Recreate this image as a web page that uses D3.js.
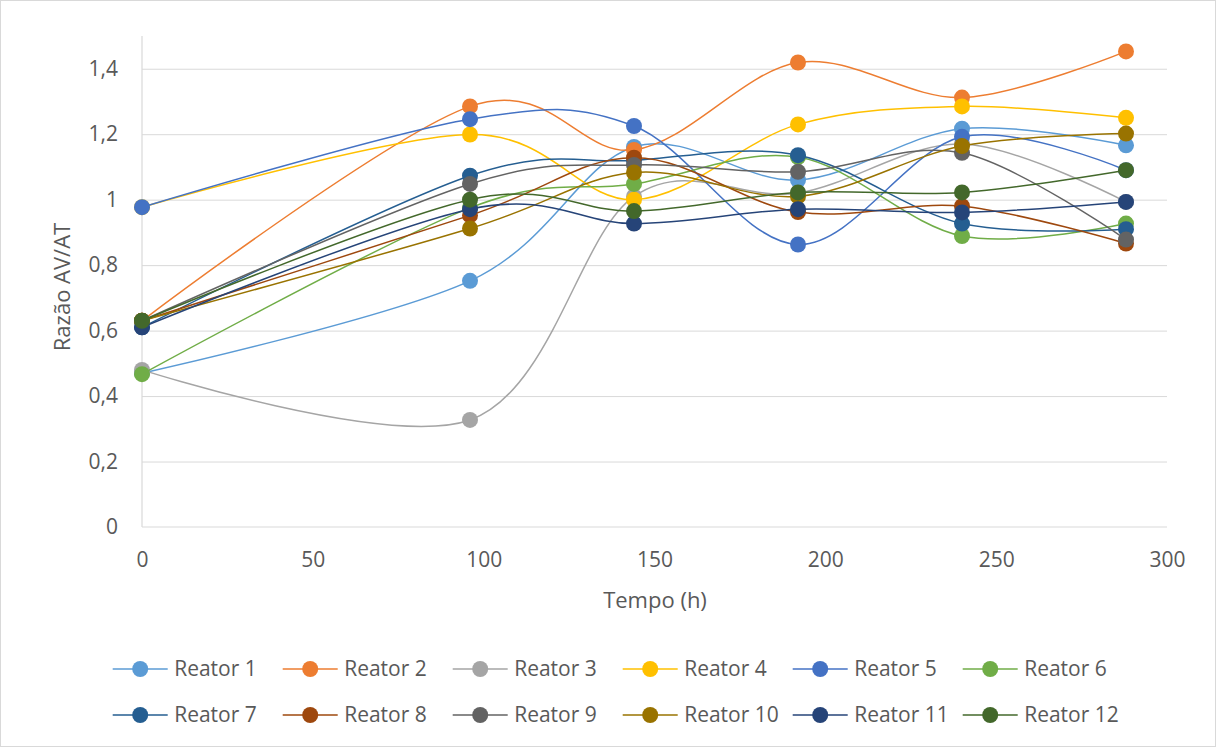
<!DOCTYPE html>
<html>
<head>
<meta charset="utf-8">
<script src="https://cdn.jsdelivr.net/npm/d3@7"></script>
<style>
  html, body { margin: 0; padding: 0; background: #fff; }
  svg { display: block; font-family: "Open Sans", "Noto Sans", sans-serif; }
</style>
</head>
<body>
<svg id="chart" width="1216" height="747"></svg>
<script>
// ---- Data ----
const tempos = [0, 96, 144, 192, 240, 288];
const seriesNames = ["Reator 1","Reator 2","Reator 3","Reator 4","Reator 5","Reator 6",
                     "Reator 7","Reator 8","Reator 9","Reator 10","Reator 11","Reator 12"];
const reator1  = [0.470, 0.752, 1.161, 1.060, 1.217, 1.166];
const reator2  = [0.630, 1.285, 1.152, 1.419, 1.312, 1.453];
const reator3  = [0.480, 0.327, 1.010, 1.020, 1.170, 0.993];
const reator4  = [0.977, 1.199, 1.000, 1.230, 1.285, 1.250];
const reator5  = [0.977, 1.246, 1.225, 0.863, 1.192, 1.090];
const reator6  = [0.467, 0.975, 1.048, 1.130, 0.889, 0.927];
const reator7  = [0.610, 1.073, 1.120, 1.136, 0.927, 0.910];
const reator8  = [0.630, 0.952, 1.128, 0.962, 0.980, 0.866];
const reator9  = [0.630, 1.048, 1.106, 1.085, 1.143, 0.878];
const reator10 = [0.630, 0.912, 1.083, 1.010, 1.164, 1.202];
const reator11 = [0.610, 0.971, 0.927, 0.971, 0.961, 0.993];
const reator12 = [0.630, 1.000, 0.965, 1.022, 1.022, 1.090];
const seriesValues = [reator1, reator2, reator3, reator4, reator5, reator6,
                      reator7, reator8, reator9, reator10, reator11, reator12];
const colors = ["#5B9BD5","#ED7D31","#A5A5A5","#FFC000","#4472C4","#70AD47",
                "#255E91","#9E480E","#636363","#997300","#264478","#43682B"];
const xTickValues = [0, 50, 100, 150, 200, 250, 300];
const xTickLabels = ["0", "50", "100", "150", "200", "250", "300"];
const yTickValues = [0, 0.2, 0.4, 0.6, 0.8, 1.0, 1.2, 1.4];
const yTickLabels = ["0", "0,2", "0,4", "0,6", "0,8", "1", "1,2", "1,4"];
const xTitle = "Tempo (h)";
const yTitle = "Razão AV/AT";

// ---- Layout ----
const svg = d3.select("#chart");
const W = 1216, H = 747;
const plot = { left: 142, right: 1167, top: 36, bottom: 527 };
const textColor = "#595959";
const gridColor = "#d9d9d9";
const fontSize = 21;

svg.append("rect").attr("x", 0.5).attr("y", 0.5).attr("width", W - 1).attr("height", H - 1)
  .attr("fill", "#fff").attr("stroke", "#d9d9d9");

const x = d3.scaleLinear().domain([0, 300]).range([plot.left, plot.right]);
const y = d3.scaleLinear().domain([0, 1.5]).range([plot.bottom, plot.top]);

// gridlines
const grid = svg.append("g")
  .attr("transform", `translate(${plot.left},0)`)
  .call(d3.axisLeft(y).tickValues(yTickValues.filter(v => v > 0))
        .tickSize(-(plot.right - plot.left)).tickFormat(""));
grid.select(".domain").remove();
grid.selectAll("line").attr("stroke", gridColor).attr("stroke-width", 1);

// axis lines
svg.append("line").attr("x1", plot.left).attr("x2", plot.left)
  .attr("y1", plot.top).attr("y2", plot.bottom).attr("stroke", gridColor).attr("stroke-width", 1.2);
svg.append("line").attr("x1", plot.left).attr("x2", plot.right)
  .attr("y1", plot.bottom).attr("y2", plot.bottom).attr("stroke", gridColor).attr("stroke-width", 1.2);

// y axis labels
const yAxis = svg.append("g")
  .attr("transform", `translate(${plot.left},0)`)
  .call(d3.axisLeft(y).tickValues(yTickValues).tickSize(0).tickPadding(24)
        .tickFormat((d, i) => yTickLabels[i]));
yAxis.select(".domain").remove();
yAxis.selectAll("text").attr("fill", textColor).style("font-size", fontSize + "px")
  .style("font-family", "'Open Sans', sans-serif");

// x axis labels
const xAxis = svg.append("g")
  .attr("transform", `translate(0,${plot.bottom})`)
  .call(d3.axisBottom(x).tickValues(xTickValues).tickSize(0).tickPadding(25)
        .tickFormat((d, i) => xTickLabels[i]));
xAxis.select(".domain").remove();
xAxis.selectAll("text").attr("fill", textColor).style("font-size", fontSize + "px")
  .style("font-family", "'Open Sans', sans-serif");

// titles
svg.append("text").attr("x", 655).attr("y", 608).attr("text-anchor", "middle")
  .attr("fill", textColor).style("font-size", "22px").text(xTitle);
svg.append("text").attr("transform", "translate(70,287) rotate(-90)").attr("text-anchor", "middle")
  .attr("fill", textColor).style("font-size", "22px").text(yTitle);

// series
const line = d3.line()
  .x((d, i) => x(tempos[i]))
  .y(d => y(d))
  .curve(d3.curveCatmullRom.alpha(0));

const seriesG = svg.append("g");
seriesValues.forEach((vals, s) => {
  const g = seriesG.append("g");
  g.append("path").datum(vals).attr("d", line)
    .attr("fill", "none").attr("stroke", colors[s]).attr("stroke-width", 1.5);
  g.selectAll("circle").data(vals).join("circle")
    .attr("cx", (d, i) => x(tempos[i])).attr("cy", d => y(d))
    .attr("r", 8).attr("fill", colors[s]);
});

// legend
const legend = svg.append("g");
const legX0 = 112.7, legStep = 170, legRows = [669, 715];
seriesNames.forEach((name, s) => {
  const col = s % 6, row = Math.floor(s / 6);
  const lx = legX0 + col * legStep, ly = legRows[row];
  const g = legend.append("g");
  g.append("line").attr("x1", lx).attr("x2", lx + 55).attr("y1", ly).attr("y2", ly)
    .attr("stroke", colors[s]).attr("stroke-width", 1.5);
  g.append("circle").attr("cx", lx + 27.5).attr("cy", ly).attr("r", 8).attr("fill", colors[s]);
  g.append("text").attr("x", lx + 61.5).attr("y", ly).attr("dy", "0.35em")
    .attr("fill", textColor).style("font-size", fontSize + "px").text(name);
});
</script>
</body>
</html>
